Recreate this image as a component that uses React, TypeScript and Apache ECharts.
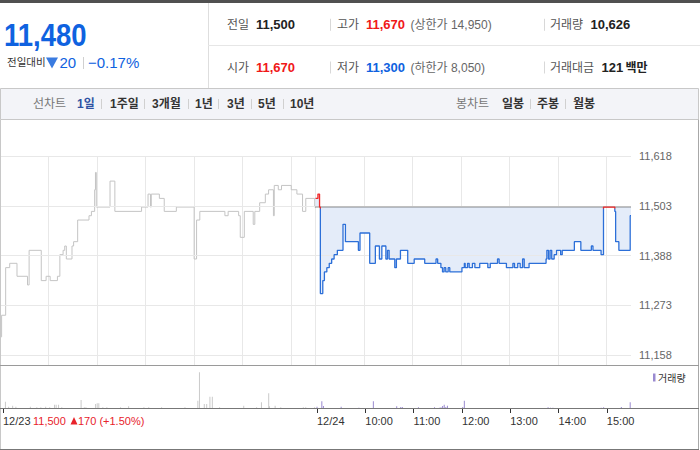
import React, { useEffect, useRef } from "react";
import * as echarts from "echarts";

// ---------- data ----------
const DAY_MIN = 390; // 09:00 - 15:30
const prevClose = 11500;

const prevDayPrice: [string, number][] = [
  ["09:00", 11200], ["09:02", 11250], ["09:07", 11360], ["09:12", 11370], ["09:21", 11340],
  ["09:34", 11320], ["09:36", 11400], ["09:51", 11330], ["09:57", 11340], ["10:02", 11330],
  ["10:11", 11340], ["10:14", 11390], ["10:18", 11400], ["10:20", 11410], ["10:22", 11380],
  ["10:29", 11410], ["10:31", 11420], ["10:36", 11470], ["10:50", 11480], ["10:53", 11490],
  ["10:57", 11540], ["10:58", 11580], ["10:59", 11500], ["11:16", 11560], ["11:22", 11490],
  ["11:55", 11500], ["12:03", 11530], ["12:06", 11500], ["12:07", 11530], ["12:17", 11520],
  ["12:23", 11490], ["12:38", 11500], ["13:00", 11380], ["13:03", 11470], ["13:07", 11490],
  ["13:38", 11480], ["13:42", 11490], ["13:55", 11480], ["13:57", 11430], ["14:02", 11490],
  ["14:13", 11460], ["14:15", 11490], ["14:21", 11510], ["14:28", 11530], ["14:32", 11540],
  ["14:38", 11480], ["14:39", 11550], ["14:44", 11540], ["14:48", 11550], ["15:00", 11540],
  ["15:07", 11530], ["15:14", 11490], ["15:18", 11520], ["15:29", 11500], ["15:30", 11500],
];

const todayPrice: [string, number][] = [
  ["09:00", 11520], ["09:03", 11530], ["09:05", 11500], ["09:06", 11300], ["09:09", 11330],
  ["09:11", 11350], ["09:14", 11360], ["09:17", 11370], ["09:20", 11380], ["09:23", 11390],
  ["09:27", 11400], ["09:34", 11460], ["09:37", 11420], ["09:53", 11400], ["09:55", 11440],
  ["10:07", 11370], ["10:14", 11410], ["10:19", 11380], ["10:22", 11410], ["10:27", 11380],
  ["10:29", 11400], ["10:31", 11380], ["10:38", 11360], ["10:40", 11380], ["10:45", 11400],
  ["10:54", 11370], ["11:02", 11380], ["11:15", 11370], ["11:29", 11380], ["11:31", 11370],
  ["11:35", 11360], ["11:37", 11350], ["11:39", 11360], ["11:41", 11350], ["11:44", 11360],
  ["11:46", 11350], ["12:01", 11360], ["12:04", 11370], ["12:05", 11360], ["12:08", 11370],
  ["12:10", 11360], ["12:14", 11370], ["12:17", 11360], ["12:23", 11370], ["12:33", 11360],
  ["12:36", 11370], ["12:45", 11380], ["12:47", 11370], ["12:56", 11360], ["13:04", 11370],
  ["13:06", 11360], ["13:10", 11370], ["13:13", 11360], ["13:16", 11380], ["13:18", 11360],
  ["13:24", 11370], ["13:45", 11380], ["13:46", 11400], ["13:48", 11380], ["13:50", 11400],
  ["13:52", 11380], ["13:55", 11390], ["13:58", 11400], ["14:03", 11390], ["14:05", 11400],
  ["14:20", 11420], ["14:28", 11400], ["14:41", 11410], ["14:43", 11400], ["14:53", 11390],
  ["14:56", 11500], ["15:10", 11490], ["15:11", 11420], ["15:15", 11400], ["15:29", 11480],
  ["15:30", 11480],
];

const prevDayVolume: [string, number][] = [
  ["09:03", 880], ["09:07", 280], ["09:12", 400], ["09:16", 280], ["09:34", 280], ["09:42", 200],
  ["09:47", 200], ["09:53", 280], ["09:58", 200], ["10:04", 520], ["10:06", 520], ["10:09", 520],
  ["10:13", 200], ["10:37", 1090], ["10:41", 200], ["10:43", 200], ["10:55", 610], ["10:57", 690],
  ["10:59", 690], ["11:04", 200], ["11:09", 200], ["11:26", 200], ["11:36", 330], ["11:55", 200],
  ["12:01", 200], ["12:17", 200], ["12:46", 200], ["13:02", 1000], ["13:04", 4440], ["13:10", 610],
  ["13:13", 610], ["13:17", 1490], ["13:20", 1490], ["13:29", 200], ["13:59", 400], ["14:15", 200],
  ["14:21", 810], ["14:30", 1900], ["14:31", 330], ["14:38", 400], ["14:45", 200], ["15:13", 200],
  ["15:16", 200], ["15:27", 200],
];

const todayVolume: [string, number][] = [
  ["09:00", 280], ["09:06", 930], ["09:08", 360], ["09:30", 280], ["09:52", 160], ["10:10", 930],
  ["10:20", 120], ["10:27", 120], ["10:32", 120], ["10:39", 330], ["10:44", 240], ["10:46", 240],
  ["10:50", 120], ["10:57", 120], ["11:01", 120], ["11:06", 200], ["11:17", 120], ["11:26", 200],
  ["11:32", 160], ["11:34", 200], ["11:36", 360], ["11:38", 520], ["11:40", 240], ["11:42", 400],
  ["12:01", 240], ["12:03", 1000], ["12:10", 120], ["12:32", 120], ["12:45", 120], ["13:39", 120],
  ["13:47", 200], ["13:50", 160], ["13:53", 160], ["13:58", 120], ["14:04", 120], ["14:10", 120],
  ["14:19", 120], ["14:53", 160], ["14:56", 200], ["14:58", 120], ["15:18", 240], ["15:29", 810],
];

const priceTicks = [11618, 11503, 11388, 11273, 11158];
const xTickIdx = [0, 390, 450, 510, 570, 630, 690, 750];
const xTickLabels = ["12/23", "12/24", "10:00", "11:00", "12:00", "13:00", "14:00", "15:00"];
const gridLineIdx = [60, 120, 180, 240, 300, 360, 390, 450, 510, 570, 630, 690, 750];

// header
const currentPrice = 11480;
const changeAbs = 20;
const changePct = "−0.17%";
const prevDayLabel = { close: 11500, change: 170, pct: "(+1.50%)" };
const quoteRow1: [string, number][] = [["전일", 11500], ["고가", 11670], ["거래량", 10626]];
const quoteRow2: [string, number][] = [["시가", 11670], ["저가", 11300], ["거래대금", 121]];
const upperLimit = 14950;
const lowerLimit = 8050;
const lineTabs = ["1일", "1주일", "3개월", "1년", "3년", "5년", "10년"];
const candleTabs = ["일봉", "주봉", "월봉"];

// ---------- helpers ----------
const FONT = "'Liberation Sans', 'Noto Sans CJK KR', sans-serif";
const fmt = (n: number) => String(n).replace(/\B(?=(\d{3})+(?!\d))/g, ",");
const toIdx = (t: string, day: number) => {
  const [h, m] = t.split(":").map(Number);
  return day * DAY_MIN + (h - 9) * 60 + m;
};
const BLUE = "#0f62e0";
const RED = "#f01818";

// price-chart geometry (grid 0)
const PLOT_TOP = 156;
const PLOT_H = 209;
const Y_MIN = 11135;
const Y_MAX = 11618;
const CANVAS_H = 450;

function txt(text: string, x: number, y: number, size: number, color: string, weight = "normal", extra: any = {}) {
  return {
    type: "text",
    x,
    y,
    silent: true,
    z: 50,
    ...extra,
    style: {
      text,
      fill: color,
      fontSize: size,
      fontWeight: weight,
      fontFamily: FONT,
      align: "left",
      verticalAlign: "middle",
      textAlign: "left",
      textVerticalAlign: "middle",
    },
  };
}
function ln(x1: number, y1: number, x2: number, y2: number, color: string) {
  return { type: "line", silent: true, z: 60, shape: { x1, y1, x2, y2 }, style: { stroke: color, lineWidth: 1 } };
}

function buildOption() {
  const cats = Array.from({ length: DAY_MIN * 2 + 1 }, (_, i) => String(i));
  const gridSet = new Set(gridLineIdx);
  const tickSet = new Set(xTickIdx);
  const labelMap: Record<number, string> = {};
  xTickIdx.forEach((i, k) => (labelMap[i] = xTickLabels[k]));

  // pixel row of the previous close, used for the red/blue split of today's line
  const closeY = PLOT_TOP + ((Y_MAX - prevClose) / (Y_MAX - Y_MIN)) * PLOT_H;
  const todayData = todayPrice.map(([t, v]) => [toIdx(t, 1), v]);

  const lineTabX = [77, 110, 152, 195, 227, 258, 290];
  const lineSepX = [101.5, 144.5, 188.5, 218.5, 251.5, 283.5];
  const candleTabX = [502, 537, 573];
  const candleSepX = [530.5, 565.5];

  const graphic: any[] = [
    { type: "rect", silent: true, z: 40, shape: { x: 0, y: 0, width: 700, height: 3 }, style: { fill: "#505050" } },
    ln(208.5, 3, 208.5, 88, "#dedede"),
    ln(208, 45.5, 700, 45.5, "#e6e6e6"),
    txt(fmt(currentPrice), 4, 34.5, 32, BLUE, "bold", { scaleX: 0.86 }),
    txt("전일대비", 7, 62, 10.5, "#333"),
    {
      type: "polygon",
      silent: true,
      z: 50,
      shape: { points: [[46, 57.5], [58, 57.5], [52, 68.5]] },
      style: { fill: "#3a7be0" },
    },
    txt(String(changeAbs), 59.5, 62.5, 15, BLUE),
    ln(83.5, 57, 83.5, 69, "#d0d0d0"),
    txt(changePct, 88, 62.5, 15, BLUE),
  ];

  // quote rows
  const rowY = [24.8, 67.5];
  [quoteRow1, quoteRow2].forEach((row, r) => {
    const y = rowY[r];
    graphic.push(txt(row[0][0], 227, y, 12, "#555"));
    graphic.push(txt(fmt(row[0][1]), 256, y, 13, r === 0 ? "#222" : RED, "bold"));
    graphic.push(ln(330.5, y - 6, 330.5, y + 6, "#d8d8d8"));
    graphic.push(txt(row[1][0], 337, y, 12, "#555"));
    graphic.push(txt(fmt(row[1][1]), 366, y, 13, r === 0 ? RED : BLUE, "bold"));
    graphic.push(
      txt(r === 0 ? `(상한가 ${fmt(upperLimit)})` : `(하한가 ${fmt(lowerLimit)})`, 410.5, y, 12, "#666")
    );
    graphic.push(ln(544.5, y - 6, 544.5, y + 6, "#d8d8d8"));
    graphic.push(txt(row[2][0], 550, y, 12, "#555"));
    graphic.push(txt(fmt(row[2][1]), r === 0 ? 590.5 : 601.5, y, 13, "#222", "bold"));
    if (r === 1) graphic.push(txt("백만", 625.5, y, 12, "#222", "bold"));
  });

  // toolbar
  graphic.push({
    type: "rect", silent: true, z: 40,
    shape: { x: 0.5, y: 88.5, width: 698, height: 31 },
    style: { fill: "#f3f4f8", stroke: "#c8c8c8", lineWidth: 1 },
  });
  graphic.push(txt("선차트", 33, 104, 12, "#777"));
  lineTabs.forEach((t, i) => graphic.push(txt(t, lineTabX[i], 104, 12, i === 0 ? "#2f52a3" : "#333", "bold")));
  lineSepX.forEach((x) => graphic.push(ln(x, 99, x, 109, "#d0d0d0")));
  graphic.push(txt("봉차트", 456, 104, 12, "#777"));
  candleTabs.forEach((t, i) => graphic.push(txt(t, candleTabX[i], 104, 12, "#333", "bold")));
  candleSepX.forEach((x) => graphic.push(ln(x, 99, x, 109, "#d0d0d0")));

  // chart frame
  graphic.push(ln(0.5, 119.5, 0.5, 449.5, "#c8c8c8"));
  graphic.push(ln(698.5, 119.5, 698.5, 449.5, "#a8a8a8"));
  graphic.push(ln(0, 449.5, 699, 449.5, "#777"));
  graphic.push(ln(0, 365.5, 699, 365.5, "#9a9a9a"));
  graphic.push(ln(0, 408.5, 699, 408.5, "#777"));

  // volume legend
  graphic.push({ type: "rect", silent: true, z: 50, shape: { x: 653, y: 373.5, width: 2.5, height: 8 }, style: { fill: "#9a8ad0" } });
  graphic.push(txt("거래량", 658, 378, 10, "#333"));

  // previous-day close annotation
  graphic.push(txt(fmt(prevDayLabel.close), 33, 421, 11, "#e8232b"));
  graphic.push({
    type: "polygon", silent: true, z: 50,
    shape: { points: [[70.5, 424.5], [77.5, 424.5], [74, 417]] },
    style: { fill: "#e8232b" },
  });
  graphic.push(txt(`${prevDayLabel.change} ${prevDayLabel.pct}`, 78, 421, 11, "#e8232b"));

  return {
    animation: false,
    backgroundColor: "#fff",
    grid: [
      { left: 0, top: PLOT_TOP, width: 631, height: PLOT_H },
      { left: 0, top: 366, width: 631, height: 43 },
    ],
    xAxis: [
      {
        type: "category", gridIndex: 0, data: cats, boundaryGap: false,
        axisLine: { show: false }, axisTick: { show: false }, axisLabel: { show: false },
        splitLine: { show: true, interval: (i: number) => gridSet.has(i), lineStyle: { color: "#e8e8e8", width: 1 } },
      },
      {
        type: "category", gridIndex: 1, data: cats, boundaryGap: false,
        axisLine: { show: false },
        axisTick: { show: true, interval: (i: number) => tickSet.has(i), length: 4, inside: false, lineStyle: { color: "#333" } },
        axisLabel: {
          show: true,
          interval: (i: number) => tickSet.has(i),
          formatter: (v: string) => labelMap[Number(v)] ?? "",
          align: "left", margin: 6, color: "#333", fontSize: 11, fontFamily: FONT,
        },
        splitLine: { show: false },
      },
    ],
    yAxis: [
      { type: "value", gridIndex: 0, min: Y_MIN, max: Y_MAX, show: false },
      { type: "value", gridIndex: 1, min: 0, max: 5200, show: false },
    ],
    series: [
      {
        name: "prev", type: "line", xAxisIndex: 0, yAxisIndex: 0, step: "end", showSymbol: false, silent: true, z: 2,
        data: prevDayPrice.map(([t, v]) => [toIdx(t, 0), v]),
        lineStyle: { color: "#c4c4c4", width: 1 },
        markLine: {
          silent: true, symbol: ["none", "none"], animation: false,
          lineStyle: { color: "#e8e8e8", type: "solid", width: 1 },
          label: {
            position: "end", distance: 8, color: "#666", fontSize: 11, fontFamily: FONT,
            formatter: (p: any) => fmt(p.value),
          },
          data: priceTicks.map((v) => ({ yAxis: v })),
        },
      },
      {
        name: "todayArea", type: "line", xAxisIndex: 0, yAxisIndex: 0, step: "end", showSymbol: false, silent: true, z: 3,
        data: todayData,
        lineStyle: { width: 0, opacity: 0 },
        areaStyle: { color: "#e4ecf9", opacity: 1, origin: prevClose },
      },
      {
        name: "prevClose", type: "line", xAxisIndex: 0, yAxisIndex: 0, showSymbol: false, silent: true, z: 5,
        data: [[DAY_MIN, prevClose], [DAY_MIN * 2, prevClose]],
        lineStyle: { color: "#333", type: [1, 1], width: 1 },
      },
      {
        name: "today", type: "line", xAxisIndex: 0, yAxisIndex: 0, step: "end", showSymbol: false, silent: true, z: 6,
        data: todayData,
        lineStyle: {
          width: 1.3,
          color: {
            type: "linear", x: 0, y: 0, x2: 0, y2: CANVAS_H, global: true,
            colorStops: [
              { offset: 0, color: "#f02828" },
              { offset: (closeY + 1.2) / CANVAS_H, color: "#f02828" },
              { offset: (closeY + 1.8) / CANVAS_H, color: "#2c6fd8" },
              { offset: 1, color: "#2c6fd8" },
            ],
          },
        },
      },
      {
        name: "prevVol", type: "bar", xAxisIndex: 1, yAxisIndex: 1, barWidth: 1, barGap: "-100%", silent: true,
        data: prevDayVolume.map(([t, v]) => [toIdx(t, 0), v]),
        itemStyle: { color: "#cacaca" },
      },
      {
        name: "todayVol", type: "bar", xAxisIndex: 1, yAxisIndex: 1, barWidth: 1, barGap: "-100%", silent: true,
        data: todayVolume.map(([t, v]) => [toIdx(t, 1), v]),
        itemStyle: { color: "#9a8ad0" },
      },
    ],
    graphic,
  };
}

export default function App() {
  const ref = useRef<HTMLDivElement>(null);
  useEffect(() => {
    if (!ref.current) return;
    const chart = echarts.init(ref.current, null, { renderer: "svg" });
    chart.setOption(buildOption() as any);
    return () => chart.dispose();
  }, []);
  return <div ref={ref} style={{ position: "absolute", left: 0, top: 0, width: 700, height: 450 }} />;
}
